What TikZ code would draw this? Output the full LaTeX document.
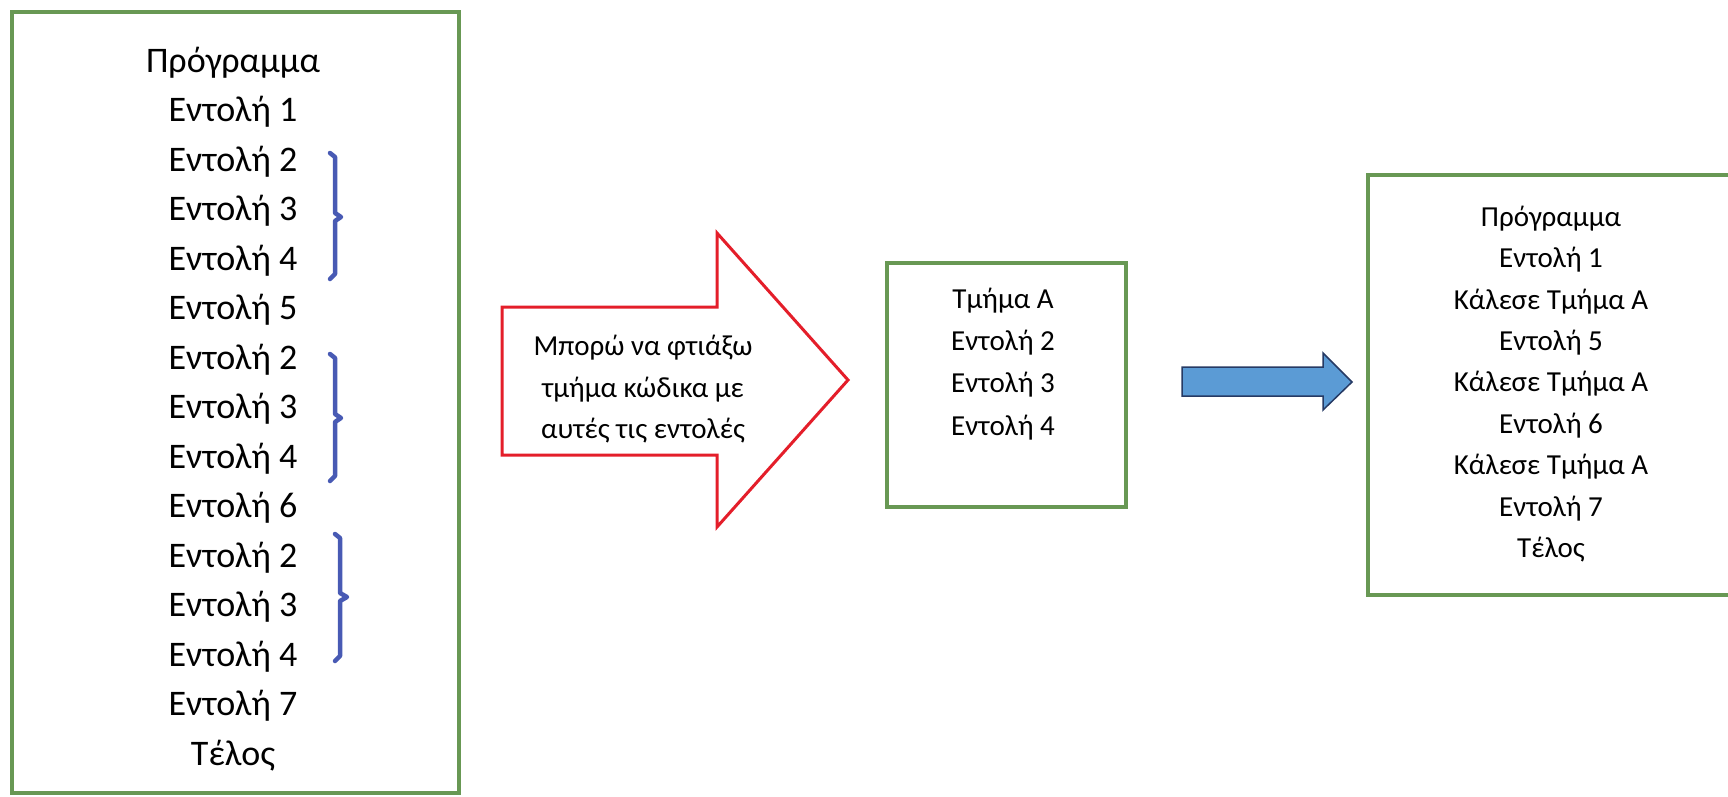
\documentclass[tikz,border=0pt]{standalone}
\usepackage{fontspec}
\setmainfont{Carlito}
\definecolor{boxgreen}{RGB}{104,152,84}
\definecolor{bracketblue}{RGB}{72,90,180}
\definecolor{arrowred}{RGB}{228,30,42}
\definecolor{arrowblue}{RGB}{91,155,213}
\definecolor{arrowedge}{RGB}{38,58,100}
\begin{document}
\begin{tikzpicture}[x=1pt,y=-1pt,
  greenbox/.style={draw=boxgreen,line width=4pt},
  bigline/.style={font=\fontsize{36}{44}\selectfont,text height=0.644em,text depth=0pt,inner sep=0pt,anchor=center},
  smallline/.style={font=\fontsize{29}{35}\selectfont,text height=0.644em,text depth=0pt,inner sep=0pt,anchor=center},
  bracket/.style={draw=bracketblue,line width=4.5pt,line join=round,line cap=round}]
\useasboundingbox (0,0) rectangle (1728,796);
\clip (0,0) rectangle (1728,796);
% left box
\draw[greenbox] (12,12) rectangle (459,793);
\foreach \t [count=\i] in {Πρόγραμμα,Εντολή 1,Εντολή 2,Εντολή 3,Εντολή 4,Εντολή 5,Εντολή 2,Εντολή 3,Εντολή 4,Εντολή 6,Εντολή 2,Εντολή 3,Εντολή 4,Εντολή 7,Τέλος}
  \node[bigline] (L\i) at (233,{69+49.5*(\i-1)}) {\t};
% brackets
\draw[bracket] (330,153) -- (335,157) -- (335,213) -- (341,217) -- (335,221) -- (335,274) -- (330,279);
\draw[bracket] (330,354) -- (335,358) -- (335,414) -- (341,418) -- (335,422) -- (335,476) -- (330,481);
\draw[bracket] (335,534) -- (340,538) -- (340,593) -- (347,597) -- (340,601) -- (340,656) -- (335,661);
% red arrow
\draw[draw=arrowred,line width=3pt,fill=white,line join=miter]
  (502,307) -- (717,307) -- (717,233) -- (848,380) -- (717,527) -- (717,455) -- (502,455) -- cycle;
\node[smallline] (R1) at (643,352) {Μπορώ να φτιάξω};
\node[smallline] (R2) at (643,394) {τμήμα κώδικα με};
\node[smallline] (R3) at (643,435) {αυτές τις εντολές};
% middle box
\draw[greenbox] (887,263) rectangle (1126,507);
\foreach \t [count=\i] in {Τμήμα Α,Εντολή 2,Εντολή 3,Εντολή 4}
  \node[smallline] (M\i) at (1003,{305+42.3*(\i-1)}) {\t};
% blue arrow
\draw[draw=arrowedge,line width=1.5pt,fill=arrowblue,line join=miter]
  (1182,367) -- (1323,367) -- (1323,353) -- (1352,382) -- (1323,410) -- (1323,396) -- (1182,396) -- cycle;
% right box
\draw[greenbox] (1368,175) rectangle (1760,595);
\foreach \t [count=\i] in {Πρόγραμμα,Εντολή 1,Κάλεσε Τμήμα Α,Εντολή 5,Κάλεσε Τμήμα Α,Εντολή 6,Κάλεσε Τμήμα Α,Εντολή 7,Τέλος}
  \node[smallline] (P\i) at (1551,{223+41.4*(\i-1)}) {\t};
\end{tikzpicture}
\end{document}
